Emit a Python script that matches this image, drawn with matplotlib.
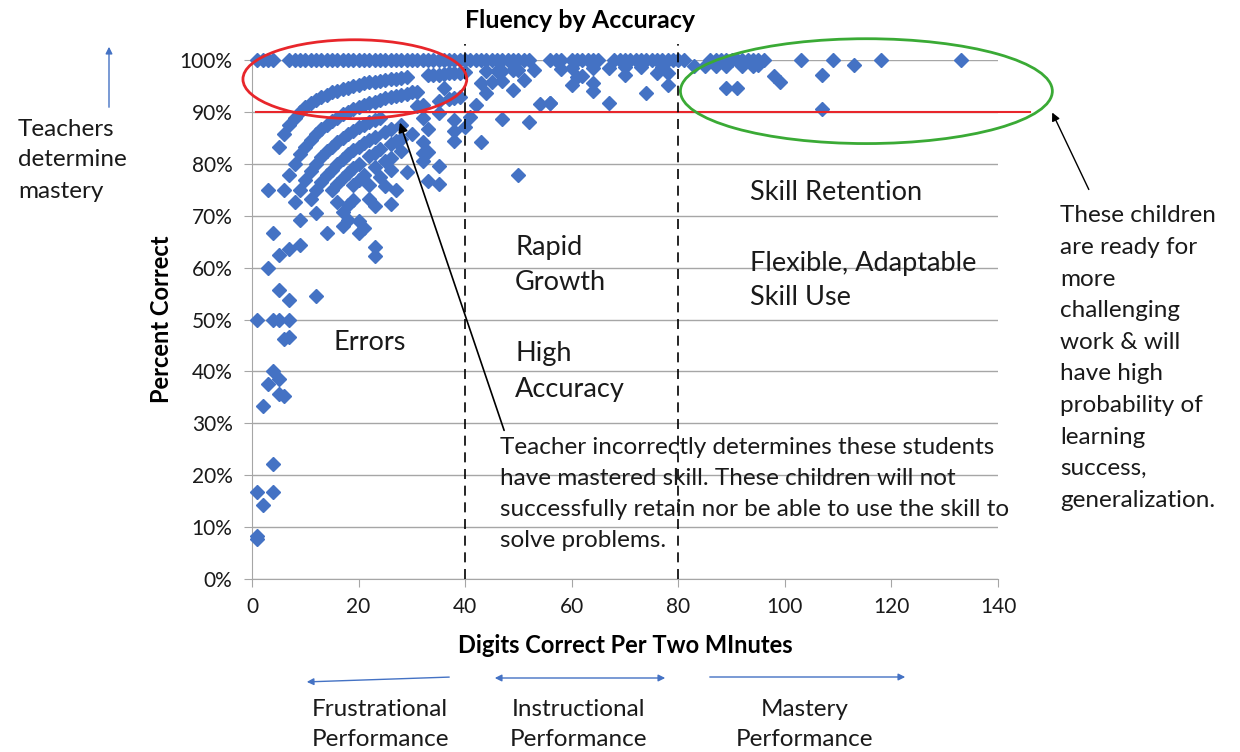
import matplotlib.pyplot as plt
from matplotlib.patches import Ellipse, FancyArrowPatch
import numpy as np

plt.rcParams['font.family'] = ['Lato', 'DejaVu Sans']

# digits correct per two minutes / percent correct
# grouped by the arcs they sit on
digits_top = [1, 2, 3, 4, 7, 8, 9, 10, 11, 12, 13, 14, 15, 16, 17, 18, 19, 20, 21, 22, 23,
              24, 25, 26, 27, 28, 29, 30, 31, 32, 33, 34, 35, 36, 37, 38, 39, 40, 41, 42, 43,
              44, 45, 46, 47, 48, 49, 50, 51, 52, 56, 57, 58, 60, 61, 62, 63, 64, 65, 68, 69,
              70, 71, 72, 73, 74, 75, 76, 77, 78, 79, 80, 81, 86, 87, 88, 89, 90, 91, 92, 93,
              94, 95, 96, 103, 109, 118, 133]
pct_top = [100] * len(digits_top)

digits_a = [1, 3, 5, 6, 7, 8, 9, 10, 11, 12, 13, 14, 15, 16, 17, 18, 19, 20, 21, 22, 23, 24,
            25, 26, 27, 28, 29, 33, 34, 35, 36, 37, 38, 39, 40, 44, 46, 47, 49, 50, 53, 58, 60,
            64, 67, 70, 73, 77, 83, 85, 87, 89, 92, 94, 95, 113]
pct_a = [50.0, 75.0, 83.3, 85.7, 87.5, 88.9, 90.0, 90.9, 91.7, 92.3, 92.9, 93.3, 93.8, 94.1,
         94.4, 94.7, 95.0, 95.2, 95.5, 95.7, 95.8, 96.0, 96.2, 96.3, 96.4, 96.6, 96.7, 97.1,
         97.1, 97.2, 97.3, 97.4, 97.4, 97.5, 97.6, 97.8, 97.9, 97.9, 98.0, 98.0, 98.1, 98.3,
         98.4, 98.5, 98.5, 98.6, 98.6, 98.7, 98.8, 98.8, 98.9, 98.9, 98.9, 98.9, 99.0, 99.1]

digits_b = [3, 4, 6, 7, 8, 9, 10, 11, 12, 13, 14, 15, 16, 17, 18, 19, 20, 21, 22, 23, 24, 25,
            26, 27, 28, 29, 30, 31, 36, 43, 45, 47, 51, 61, 62, 70, 76, 78]
pct_b = [60.0, 66.7, 75.0, 77.8, 80.0, 81.8, 83.3, 84.6, 85.7, 86.7, 87.5, 88.2, 88.9, 89.5,
         90.0, 90.5, 90.9, 91.3, 91.7, 92.0, 92.3, 92.6, 92.9, 93.1, 93.3, 93.5, 93.8, 93.9,
         94.7, 95.6, 95.7, 95.9, 96.2, 96.8, 96.9, 97.2, 97.4, 97.5]

digits_c = [5, 8, 9, 10, 11, 12, 13, 14, 15, 16, 17, 18, 19, 20, 21, 22, 23, 24, 31, 32, 35,
            37, 38, 39, 49, 60, 64, 99, 98]
pct_c = [62.5, 72.7, 75.0, 76.9, 78.6, 80.0, 81.3, 82.4, 83.3, 84.2, 85.0, 85.7, 86.4, 87.0,
         87.5, 88.0, 88.5, 88.9, 91.2, 91.4, 92.1, 92.5, 92.7, 92.9, 94.2, 95.2, 95.5, 95.8,
         96.9]

digits_d = [2, 4, 5, 7, 9, 11, 12, 13, 14, 15, 16, 17, 18, 19, 20, 21, 22, 23, 25, 26, 28, 32,
            35, 42, 44, 64, 74, 78, 89, 91, 107]
pct_d = [33.3, 50.0, 55.6, 63.6, 69.2, 73.3, 75.0, 76.5, 77.8, 78.9, 80.0, 81.0, 81.8, 82.6,
         83.3, 84.0, 84.6, 85.2, 86.2, 86.7, 87.5, 88.9, 89.7, 91.3, 93.6, 94.1, 93.6, 95.1,
         94.6, 94.6, 97.1]

digits_e = [1, 3, 5, 9, 12, 15, 16, 17, 18, 19, 20, 22, 23, 24, 26, 27, 28, 30, 33, 38, 41, 54,
            56, 56]
pct_e = [16.7, 37.5, 50.0, 64.3, 70.6, 75.0, 76.2, 77.3, 78.3, 79.2, 80.0, 81.5, 82.1, 82.8,
         83.9, 84.4, 84.8, 85.7, 86.8, 88.4, 89.0, 91.5, 91.8, 91.8]

digits_f = [4, 7, 16, 19, 20, 21, 23, 25, 26, 28, 32, 38, 40, 47, 52, 67, 107]
pct_f = [40.0, 53.8, 72.7, 76.0, 76.9, 77.8, 79.3, 80.6, 81.2, 82.4, 84.2, 86.4, 87.0, 88.7,
         88.0, 91.7, 90.6]

digits_g = [6, 7, 14, 17, 18, 19, 22, 24, 26, 32, 33, 38, 43]
pct_g = [46.2, 50.0, 66.7, 70.8, 72.0, 73.1, 75.9, 77.4, 78.8, 82.1, 82.3, 84.4, 84.2]

digits_h = [5, 7, 17, 18, 22, 25, 29, 32]
pct_h = [38.5, 46.7, 68.0, 69.2, 73.3, 75.8, 78.4, 80.5]

digits_low = [5, 20, 23, 27, 35, 12, 20, 21, 26, 33, 1, 6, 35, 1, 2, 23, 4, 23, 4, 50]
pct_low = [35.7, 69.0, 71.9, 75.0, 79.5, 54.5, 66.7, 67.7, 72.2, 76.7, 8.3, 35.3, 76.1, 7.7,
           14.3, 63.9, 22.2, 62.2, 16.7, 77.8]

digits = np.concatenate([digits_top, digits_a, digits_b, digits_c, digits_d, digits_e,
                         digits_f, digits_g, digits_h, digits_low])
percent = np.concatenate([pct_top, pct_a, pct_b, pct_c, pct_d, pct_e, pct_f, pct_g, pct_h,
                          pct_low])

zone_edges = [40, 80]
mastery_cut = 90

fig = plt.figure(figsize=(12.4, 7.52), dpi=100)
ax = fig.add_axes([252 / 1240, 1 - 579 / 752, 746 / 1240, 519 / 752])

ax.plot(digits, percent, 'D', color='#4472C4', ms=7, mec='#4472C4', clip_on=False, zorder=3)

ax.set_xlim(0, 140)
ax.set_ylim(0, 100)
ax.set_xticks(np.arange(0, 141, 20))
ax.set_yticks(np.arange(0, 101, 10))
ax.set_yticklabels([f'{v}%' for v in range(0, 101, 10)])
ax.yaxis.grid(True, color='#A6A6A6', lw=1)
ax.set_axisbelow(True)
for s in ['top', 'right']:
    ax.spines[s].set_visible(False)
for s in ['left', 'bottom']:
    ax.spines[s].set_color('#A6A6A6')
ax.tick_params(axis='both', colors='#A6A6A6', labelcolor='#1a1a1a', labelsize=15,
               length=6, direction='out')
ax.tick_params(axis='y', pad=8)
ax.tick_params(axis='x', pad=7)

ax.set_xlabel('Digits Correct Per Two MInutes', fontsize=17, fontweight='bold', labelpad=12)
ax.set_ylabel('Percent Correct', fontsize=17, fontweight='bold')
ax.yaxis.set_label_coords(-0.106, 0.5)
fig.text(580 / 1240, 1 - 20 / 752, 'Fluency by Accuracy', fontsize=18, fontweight='bold',
         ha='center', va='center')

# reference lines
ax.plot([0.8, 146], [mastery_cut, mastery_cut], color='#E8262B', lw=1.5, clip_on=False, zorder=4)
for xv in zone_edges:
    ax.plot([xv, xv], [0, 103], color='black', lw=1.2, ls=(0, (6, 4)), clip_on=False, zorder=4)

ax.add_patch(Ellipse((19.3, 96.3), 42, 15.2, fill=False, ec='#E8262B', lw=2, clip_on=False,
                     zorder=5))
ax.add_patch(Ellipse((115.3, 94.0), 69.8, 20.2, fill=False, ec='#3AAA35', lw=2, clip_on=False,
                     zorder=5))


def px(x, y):
    return x / 1240, 1 - y / 752


def lines(x, y0, step, rows, size, ha='left'):
    for i, r in enumerate(rows):
        fig.text(*px(x, y0 + i * step), r, fontsize=size, ha=ha, va='center', color='#1a1a1a')


lines(750, 192, 34, ['Skill Retention'], 19.5)
lines(750, 264, 34, ['Flexible, Adaptable', 'Skill Use'], 19.5)
lines(515, 247, 36, ['Rapid', 'Growth'], 19.5)
lines(515, 354, 35, ['High', 'Accuracy'], 19.5)
lines(333, 343, 34, ['Errors'], 19.5)
lines(500, 447, 31.3, ['Teacher incorrectly determines these students',
                       'have mastered skill. These children will not',
                       'successfully retain nor be able to use the skill to',
                       'solve problems.'], 17.5)
lines(1060, 216, 31.6, ['These children', 'are ready for', 'more', 'challenging',
                        'work & will', 'have high', 'probability of', 'learning',
                        'success,', 'generalization.'], 17.5)
lines(18, 129, 31, ['Teachers', 'determine', 'mastery'], 17.5)
lines(380, 709, 31, ['Frustrational', 'Performance'], 17.5, ha='center')
lines(579, 709, 31, ['Instructional', 'Performance'], 17.5, ha='center')
lines(805, 709, 31, ['Mastery', 'Performance'], 17.5, ha='center')


# arrows (figure pixel positions)
def arrow(x0, y0, x1, y1, color, style='-|>', lw=1.0, scale=10):
    fig.add_artist(FancyArrowPatch(px(x0, y0), px(x1, y1), transform=fig.transFigure,
                                   arrowstyle=style, mutation_scale=scale, color=color, lw=lw))


arrow(505, 433, 399, 120, 'black', lw=1.2, scale=14)
arrow(1090, 192, 1051, 110, 'black', lw=1.0, scale=12)
arrow(109, 110, 109, 44, '#4472C4', lw=1.0, scale=10)
arrow(452, 677, 304, 682, '#4472C4', lw=1.0, scale=10)
arrow(492, 678, 668, 678, '#4472C4', style='<|-|>', lw=1.0, scale=10)
arrow(707, 677, 908, 677, '#4472C4', lw=1.0, scale=10)

fig.savefig('out.png', dpi=100)
